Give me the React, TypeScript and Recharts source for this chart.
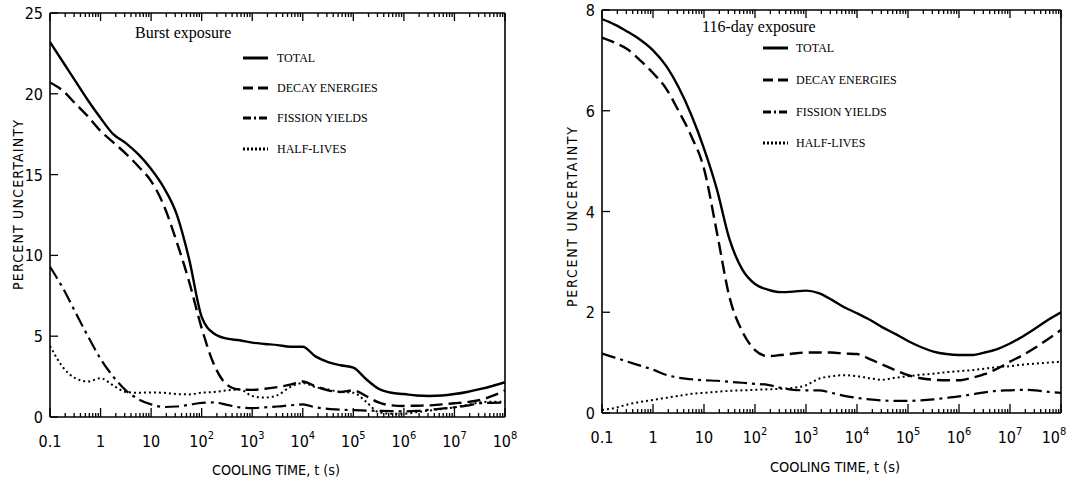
import { LineChart, Line, XAxis, YAxis, Legend } from "recharts";

// cooling time grid, quarter decades from 0.1 s to 1e8 s
const coolingTime = [
  0.1, 0.178, 0.316, 0.562, 1, 1.78, 3.16, 5.62, 10, 17.8, 31.6, 56.2, 100,
  178, 316, 562, 1e3, 1.78e3, 3.16e3, 5.62e3, 1e4, 1.78e4, 3.16e4, 5.62e4,
  1e5, 1.78e5, 3.16e5, 5.62e5, 1e6, 1.78e6, 3.16e6, 5.62e6, 1e7, 1.78e7,
  3.16e7, 5.62e7, 1e8,
];

// burst exposure (percent)
const burstTotal = [
  23.2, 22.0, 20.8, 19.6, 18.5, 17.5, 16.95, 16.25, 15.35, 14.2, 12.6, 9.8,
  6.2, 5.15, 4.85, 4.75, 4.6, 4.52, 4.45, 4.35, 4.35, 3.75, 3.4, 3.2, 3.05,
  2.35, 1.75, 1.5, 1.42, 1.33, 1.3, 1.33, 1.42, 1.55, 1.72, 1.92, 2.15,
];
const burstDecay = [
  20.7, 20.2, 19.4, 18.6, 17.7, 17.0, 16.3, 15.5, 14.6, 13.1, 10.9, 8.4, 5.5,
  3.2, 2.0, 1.7, 1.68, 1.75, 1.85, 2.0, 2.2, 1.9, 1.65, 1.55, 1.65, 1.3, 0.9,
  0.72, 0.68, 0.7, 0.72, 0.78, 0.85, 0.92, 1.05, 1.3, 1.65,
];
const burstFission = [
  9.3, 8.0, 6.5, 5.0, 3.6, 2.5, 1.65, 1.1, 0.78, 0.62, 0.65, 0.75, 0.88, 0.9,
  0.75, 0.6, 0.55, 0.6, 0.65, 0.72, 0.78, 0.6, 0.5, 0.45, 0.42, 0.4, 0.38,
  0.36, 0.35, 0.38, 0.45, 0.52, 0.6, 0.7, 0.85, 0.88, 0.9,
];
const burstHalfLives = [
  4.4, 3.1, 2.4, 2.2, 2.4, 1.95, 1.55, 1.5, 1.52, 1.5, 1.42, 1.4, 1.5, 1.55,
  1.65, 1.7, 1.3, 1.2, 1.35, 1.85, 2.1, 1.85, 1.7, 1.55, 1.5, 0.95, 0.3, 0.2,
  0.2, 0.3, 0.4, 0.5, 0.6, 0.75, 0.9, 0.95, 0.95,
];

// 116-day exposure (percent)
const longTotal = [
  7.82, 7.71, 7.57, 7.41, 7.2, 6.9, 6.47, 5.92, 5.25, 4.45, 3.45, 2.85, 2.56,
  2.45, 2.4, 2.41, 2.43, 2.38, 2.25, 2.1, 1.98, 1.85, 1.7, 1.57, 1.43, 1.31,
  1.22, 1.17, 1.15, 1.15, 1.2, 1.27, 1.38, 1.52, 1.68, 1.85, 2.0,
];
const longDecay = [
  7.45, 7.35, 7.22, 7.0, 6.75, 6.45, 6.0, 5.5, 4.85, 3.6, 2.3, 1.62, 1.25,
  1.13, 1.15, 1.18, 1.2, 1.2, 1.2, 1.18, 1.17, 1.07, 0.96, 0.85, 0.75, 0.69,
  0.66, 0.65, 0.65, 0.7, 0.77, 0.88, 1.02, 1.15, 1.3, 1.47, 1.65,
];
const longFission = [
  1.18, 1.1, 1.02, 0.94, 0.86, 0.76, 0.7, 0.67, 0.65, 0.64, 0.62, 0.6, 0.58,
  0.56, 0.5, 0.46, 0.45, 0.45, 0.4, 0.34, 0.3, 0.27, 0.25, 0.24, 0.24, 0.25,
  0.27, 0.3, 0.33, 0.37, 0.41, 0.44, 0.45, 0.46, 0.45, 0.42, 0.4,
];
const longHalfLives = [
  0.06, 0.1, 0.17, 0.22, 0.26, 0.3, 0.34, 0.38, 0.4, 0.42, 0.44, 0.45, 0.46,
  0.47, 0.48, 0.5, 0.55, 0.68, 0.73, 0.75, 0.73, 0.69, 0.66, 0.7, 0.73, 0.76,
  0.78, 0.81, 0.83, 0.85, 0.88, 0.91, 0.93, 0.96, 0.98, 1.0, 1.02,
];

const seriesNames = ["TOTAL", "DECAY ENERGIES", "FISSION YIELDS", "HALF-LIVES"];

const tickValues = [0.1, 1, 10, 1e2, 1e3, 1e4, 1e5, 1e6, 1e7, 1e8];
const tickBase = ["0.1", "1", "10", "10", "10", "10", "10", "10", "10", "10"];
const tickExp = ["", "", "", "2", "3", "4", "5", "6", "7", "8"];
const minorSteps = [2, 3, 4, 5, 6, 7, 8, 9];

const burstYTicks = [0, 5, 10, 15, 20, 25];
const longYTicks = [0, 2, 4, 6, 8];

const narrow =
  "'Liberation Sans Narrow', 'DejaVu Sans Condensed', 'Arial Narrow', 'Liberation Sans', sans-serif";
const serif = "'Liberation Serif', 'Times New Roman', serif";

const allTicks = [
  ...tickValues,
  ...tickValues
    .slice(0, -1)
    .flatMap((d) => minorSteps.map((m) => +(d * m).toPrecision(3))),
].sort((a, b) => a - b);

const seriesStyle = [
  { key: "total", dash: undefined, width: 2.4, legendDash: undefined },
  { key: "decay", dash: "13 6", width: 2.4, legendDash: "10 5" },
  { key: "fission", dash: "14 5 3 5", width: 2.2, legendDash: "8 3 2 3" },
  { key: "half", dash: "2 3", width: 2, legendDash: "2 2" },
];

const toRows = (a: number[], b: number[], c: number[], d: number[]) =>
  coolingTime.map((t, i) => ({ t, total: a[i], decay: b[i], fission: c[i], half: d[i] }));

const burstRows = toRows(burstTotal, burstDecay, burstFission, burstHalfLives);
const longRows = toRows(longTotal, longDecay, longFission, longHalfLives);

const isMajor = (v: number) => tickValues.indexOf(v) >= 0;

// bottom axis: inward ticks + labels; labels never pass maxX
const makeBottomTick = (maxX: number) => (p: any) => {
  const i = tickValues.indexOf(p.payload.value);
  const major = i >= 0;
  const lx = Math.min(p.x, maxX);
  return (
    <g>
      <line x1={p.x} x2={p.x} y1={p.y} y2={p.y - (major ? 9 : 4)} stroke="#000" strokeWidth={1.3} />
      {major && (
        <text x={lx} y={p.y + 30} textAnchor="middle" fontFamily={narrow} fontSize={16} fill="#000">
          {tickBase[i]}
          {tickExp[i] && (
            <tspan dy={-8} fontSize={11}>
              {tickExp[i]}
            </tspan>
          )}
        </text>
      )}
    </g>
  );
};

const TopTick = (p: any) => (
  <line
    x1={p.x}
    x2={p.x}
    y1={p.y}
    y2={p.y + (isMajor(p.payload.value) ? 8 : 4)}
    stroke="#000"
    strokeWidth={1.3}
  />
);

const LeftTick = (p: any) => (
  <g>
    <line x1={p.x} x2={p.x + 8} y1={p.y} y2={p.y} stroke="#000" strokeWidth={1.3} />
    <text x={p.x - 7} y={p.y + 6} textAnchor="end" fontFamily={narrow} fontSize={16} fill="#000">
      {p.payload.value}
    </text>
  </g>
);

const RightTick = (p: any) => (
  <line x1={p.x} x2={p.x - 8} y1={p.y} y2={p.y} stroke="#000" strokeWidth={1.3} />
);

type PanelProps = {
  left: number;
  width: number;
  margin: { top: number; right: number; bottom: number; left: number };
  rows: any[];
  yTicks: number[];
  title: string;
  titleAt: [number, number];
  legendLineX: number;
  legendTextX: number;
  legendRows: number[];
  yTitleAt: [number, number];
  yTitleLen: number;
  xTitleAt: [number, number];
  xTitleLen: number;
  labelMaxX: number;
};

function Panel(props: PanelProps) {
  const { rows, yTicks, margin, width } = props;
  const yMax = yTicks[yTicks.length - 1];
  const BottomTick = makeBottomTick(props.labelMaxX);

  const legendContent = (lp: any) => {
    const payload = lp.payload || [];
    // keep the reference order regardless of legend sorting
    const entries = seriesStyle.map((s, i) => ({
      s,
      name: (payload.find((e: any) => e.dataKey === s.key) || {}).value || seriesNames[i],
    }));
    return (
      <div style={{ position: "relative", width, height: 1 }}>
        <div
          style={{
            position: "absolute",
            left: props.titleAt[0],
            top: props.titleAt[1] - 9,
            fontFamily: serif,
            fontSize: 16,
            lineHeight: "18px",
            whiteSpace: "nowrap",
            color: "#000",
          }}
        >
          {props.title}
        </div>
        {entries.map(({ s, name }, i) => {
          const y = props.legendRows[i];
          return (
            <div key={s.key}>
              <svg
                style={{ position: "absolute", left: props.legendLineX, top: y - 4 }}
                width={26}
                height={8}
              >
                <line x1={0} x2={25} y1={4} y2={4} stroke="#000" strokeWidth={3} strokeDasharray={s.legendDash} />
              </svg>
              <div
                style={{
                  position: "absolute",
                  left: props.legendTextX,
                  top: y - 8,
                  fontFamily: serif,
                  fontSize: 12,
                  lineHeight: "16px",
                  whiteSpace: "nowrap",
                  color: "#000",
                }}
              >
                {name}
              </div>
            </div>
          );
        })}
      </div>
    );
  };

  const yTitle = () => (
    <text
      x={props.yTitleAt[0]}
      y={props.yTitleAt[1]}
      transform={`rotate(-90 ${props.yTitleAt[0]} ${props.yTitleAt[1]})`}
      textAnchor="middle"
      dominantBaseline="central"
      fontFamily={narrow}
      fontSize={14}
      textLength={props.yTitleLen}
      lengthAdjust="spacing"
      fill="#000"
    >
      PERCENT UNCERTAINTY
    </text>
  );

  const xTitle = () => (
    <text
      x={props.xTitleAt[0]}
      y={props.xTitleAt[1]}
      textAnchor="middle"
      dominantBaseline="central"
      fontFamily={narrow}
      fontSize={14}
      textLength={props.xTitleLen}
      lengthAdjust="spacingAndGlyphs"
      fill="#000"
    >
      COOLING TIME, t (s)
    </text>
  );

  return (
    <div style={{ position: "absolute", left: props.left, top: 0 }}>
      <LineChart width={width} height={481} data={rows} margin={margin}>
        <XAxis
          xAxisId="bottom"
          dataKey="t"
          type="number"
          scale="log"
          domain={[0.1, 1e8]}
          allowDataOverflow
          ticks={allTicks}
          interval={0}
          tickSize={0}
          tickMargin={0}
          tick={BottomTick}
          height={50}
          axisLine={{ stroke: "#000", strokeWidth: 1.6 }}
          label={xTitle}
        />
        <XAxis
          xAxisId="top"
          orientation="top"
          dataKey="t"
          type="number"
          scale="log"
          domain={[0.1, 1e8]}
          allowDataOverflow
          ticks={allTicks}
          interval={0}
          tickSize={0}
          tickMargin={0}
          tick={TopTick}
          height={1}
          axisLine={{ stroke: "#000", strokeWidth: 1.6 }}
        />
        <YAxis
          yAxisId="left"
          type="number"
          domain={[0, yMax]}
          ticks={yTicks}
          interval={0}
          tickSize={0}
          tickMargin={0}
          tick={LeftTick}
          width={40}
          axisLine={{ stroke: "#000", strokeWidth: 1.6 }}
          label={yTitle}
        />
        <YAxis
          yAxisId="right"
          orientation="right"
          type="number"
          domain={[0, yMax]}
          ticks={yTicks.slice(1, -1)}
          interval={0}
          tickSize={0}
          tickMargin={0}
          tick={RightTick}
          width={1}
          axisLine={{ stroke: "#000", strokeWidth: 1.6 }}
        />
        <Legend
          layout="vertical"
          align="center"
          verticalAlign="middle"
          wrapperStyle={{ left: 0, top: 0, width, height: 1 }}
          content={legendContent}
        />
        {seriesStyle.map((s, i) => (
          <Line
            key={s.key}
            xAxisId="bottom"
            yAxisId="left"
            dataKey={s.key}
            name={seriesNames[i]}
            type="monotone"
            stroke="#000"
            strokeWidth={s.width}
            strokeDasharray={s.dash}
            dot={false}
            activeDot={false}
            isAnimationActive={false}
          />
        ))}
      </LineChart>
    </div>
  );
}

export default function App() {
  return (
    <div
      style={{
        position: "absolute",
        left: 0,
        top: 0,
        width: 1068,
        height: 481,
        background: "#fff",
        overflow: "hidden",
      }}
    >
      <Panel
        left={0}
        width={540}
        margin={{ top: 12, right: 34, bottom: 14, left: 10 }}
        rows={burstRows}
        yTicks={burstYTicks}
        title="Burst exposure"
        titleAt={[135, 33]}
        legendLineX={243}
        legendTextX={277}
        legendRows={[58, 88, 118, 149]}
        yTitleAt={[18, 205]}
        yTitleLen={170}
        xTitleAt={[276, 470]}
        xTitleLen={128}
        labelMaxX={530}
      />
      <Panel
        left={540}
        width={528}
        margin={{ top: 9, right: 6, bottom: 18, left: 22 }}
        rows={longRows}
        yTicks={longYTicks}
        title="116-day exposure"
        titleAt={[162, 27]}
        legendLineX={223}
        legendTextX={256}
        legendRows={[48, 80, 112, 143]}
        yTitleAt={[32, 217]}
        yTitleLen={180}
        xTitleAt={[295, 467]}
        xTitleLen={130}
        labelMaxX={514}
      />
    </div>
  );
}
